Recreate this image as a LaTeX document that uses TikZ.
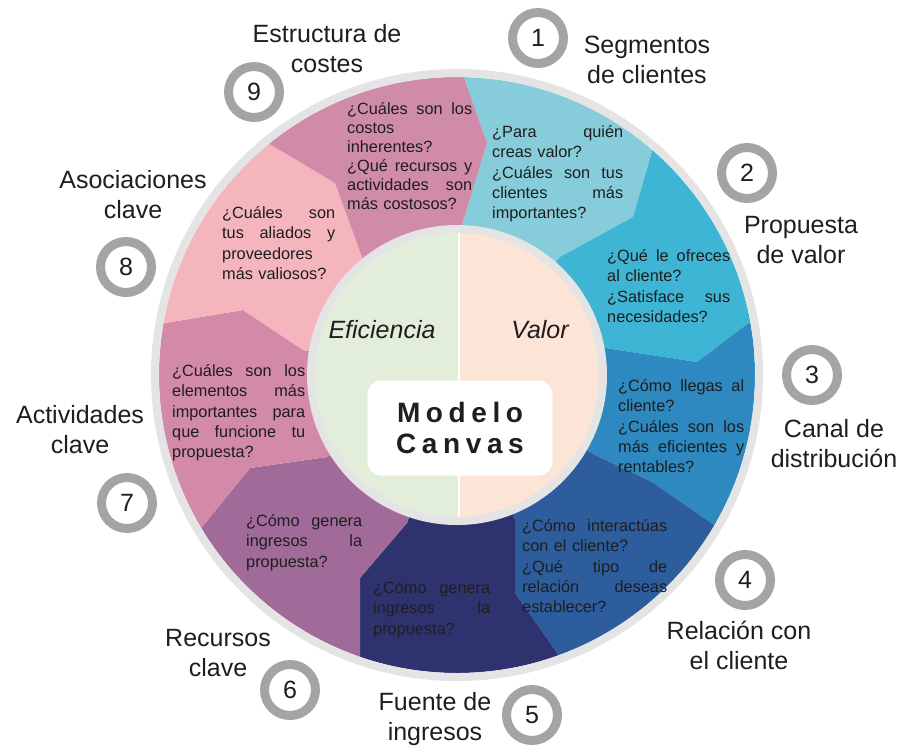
\documentclass[tikz,border=0pt]{standalone}
\usepackage{fontspec}
\setmainfont{Liberation Sans}
\newfontfamily\canvasfont[LetterSpace=20]{Liberation Sans}
\usetikzlibrary{calc}

\definecolor{segcostes}{RGB}{208,139,168}
\definecolor{segclientes}{RGB}{135,204,218}
\definecolor{segvalor}{RGB}{62,181,212}
\definecolor{segcanal}{RGB}{45,137,191}
\definecolor{segrelacion}{RGB}{46,93,157}
\definecolor{segfuente}{RGB}{46,51,112}
\definecolor{segrecursos}{RGB}{161,107,153}
\definecolor{segactividades}{RGB}{211,137,168}
\definecolor{segasociaciones}{RGB}{245,181,189}
\definecolor{ringlight}{RGB}{228,228,228}
\definecolor{ringnum}{RGB}{166,163,166}
\definecolor{efgreen}{RGB}{226,238,218}
\definecolor{valpeach}{RGB}{252,228,214}
\definecolor{inkdark}{RGB}{30,30,30}

% justified line / flush-left line
\newcommand\jl[1]{\par\noindent\hbox to\hsize{\spaceskip=.278em plus 1fill\relax#1}\par}
\newcommand\fl[1]{\par\noindent\hbox to\hsize{#1\hfil}\par}

\begin{document}
\begin{tikzpicture}
  [x=1pt, y=-1pt,
   ask/.style={anchor=north west, inner sep=0pt, text width=#1, text=inkdark, font=\fontsize{16.3}{20.3}\selectfont},
   rotulo/.style={align=center, inner sep=0pt, text=inkdark, font=\fontsize{25}{30}\selectfont},
   numring/.style={circle, draw=ringnum, line width=9pt, fill=white, minimum size=51pt, inner sep=0pt, text=inkdark, font=\fontsize{25}{25}\selectfont},
   mitad/.style={text=inkdark, font=\fontsize{25}{25}\selectfont\itshape},
   titlebox/.style={rectangle, rounded corners=14pt, fill=white, minimum width=185pt, minimum height=95pt, align=center, text=inkdark, font=\fontsize{28}{31}\selectfont\canvasfont\bfseries}]
 \useasboundingbox (0,0) rectangle (905,748);
 \coordinate (O) at (457,375);
 % boundaries: inner point, bend, outer point
 \coordinate (a0) at (462,225); \coordinate (b0) at (487,143); \coordinate (c0) at (463,75);
 \coordinate (a1) at (560,257); \coordinate (b1) at (633,217); \coordinate (c1) at (653,148);
 \coordinate (a2) at (605,348); \coordinate (b2) at (697,362); \coordinate (c2) at (750,322);
 \coordinate (a3) at (595,455); \coordinate (b3) at (652,482); \coordinate (c3) at (717,527);
 \coordinate (a4) at (515,520); \coordinate (b4) at (515,593); \coordinate (c4) at (560,657);
 \coordinate (a5) at (407,523); \coordinate (b5) at (360,578); \coordinate (c5) at (360,660);
 \coordinate (a6) at (327,457); \coordinate (b6) at (250,468); \coordinate (c6) at (202,527);
 \coordinate (a7) at (303,350); \coordinate (b7) at (243,310); \coordinate (c7) at (165,323);
 \coordinate (a8) at (362,257); \coordinate (b8) at (335,183); \coordinate (c8) at (268,143);
 \begin{scope}
  \clip (O) circle[radius=298pt];
  \foreach \i/\j/\col in {0/1/segclientes, 1/2/segvalor, 2/3/segcanal, 3/4/segrelacion, 4/5/segfuente, 5/6/segrecursos, 6/7/segactividades, 7/8/segasociaciones, 8/0/segcostes}
   \fill[\col] (O) -- (a\i) -- (b\i) -- (c\i) -- ($(O)!1.4!(c\i)$) -- ($(O)!1.4!(c\j)$) -- (c\j) -- (b\j) -- (a\j) -- cycle;
 \end{scope}
 \draw[ringlight, line width=8pt] (O) circle[radius=302pt];
 % inner circle
 \begin{scope}
  \clip (O) circle[radius=146pt];
  \fill[efgreen] ($(O)+(-150,-150)$) rectangle ($(O)+(2,150)$);
  \fill[valpeach] ($(O)+(2,-150)$) rectangle ($(O)+(150,150)$);
 \end{scope}
 \coordinate (dtop) at ($(O)+(2,-146)$);
 \coordinate (dbot) at ($(O)+(2,146)$);
 \draw[white, line width=2pt] (dtop) -- (dbot);
 \draw[ringlight, line width=8pt] (O) circle[radius=146pt];
 \node (ef) [mitad] at (382,330) {Eficiencia};
 \node (val) [mitad] at (540,330) {Valor};
 \node (caja) [titlebox] at (460,428) {Modelo\\Canvas};
 % questions
 \node (q1) [ask=131pt] at (492,117) {\jl{¿Para quién}\fl{creas valor?}\jl{¿Cuáles son tus}\jl{clientes más}\fl{importantes?}};
 \node (q2) [ask=123pt] at (607,241) {\jl{¿Qué le ofreces}\fl{al cliente?}\jl{¿Satisface sus}\fl{necesidades?}};
 \node (q3) [ask=126pt] at (618,371) {\jl{¿Cómo llegas al}\fl{cliente?}\jl{¿Cuáles son los}\jl{más eficientes y}\fl{rentables?}};
 \node (q4) [ask=145pt] at (522,511) {\jl{¿Cómo interactúas}\fl{con el cliente?}\jl{¿Qué tipo de}\jl{relación deseas}\fl{establecer?}};
 \node (q5) [ask=117pt] at (373,573) {\jl{¿Cómo genera}\jl{ingresos la}\fl{propuesta?}};
 \node (q6) [ask=116pt] at (246,506) {\jl{¿Cómo genera}\jl{ingresos la}\fl{propuesta?}};
 \node (q7) [ask=133pt] at (172,356) {\jl{¿Cuáles son los}\jl{elementos más}\jl{importantes para}\jl{que funcione tu}\fl{propuesta?}};
 \node (q8) [ask=113pt] at (222,198) {\jl{¿Cuáles son}\jl{tus aliados y}\fl{proveedores}\fl{más valiosos?}};
 \node (q9) [ask=125pt, font=\fontsize{16.3}{19}\selectfont] at (347,95) {\jl{¿Cuáles son los}\fl{costos}\fl{inherentes?}\jl{¿Qué recursos y}\jl{actividades son}\fl{más costosos?}};
 % numbers
 \node (n1) [numring] at (538,38) {1};
 \node (n2) [numring] at (747,173) {2};
 \node (n3) [numring] at (812,375) {3};
 \node (n4) [numring] at (745,580) {4};
 \node (n5) [numring] at (532,715) {5};
 \node (n6) [numring] at (290,690) {6};
 \node (n7) [numring] at (127,503) {7};
 \node (n8) [numring] at (126,267) {8};
 \node (n9) [numring] at (254,92) {9};
 % labels
 \node (l1) [rotulo] at (647,60) {Segmentos\\de clientes};
 \node (l2) [rotulo] at (801,240) {Propuesta\\de valor};
 \node (l3) [rotulo] at (834,444) {Canal de\\distribución};
 \node (l4) [rotulo] at (739,645) {Relación con\\el cliente};
 \node (l5) [rotulo] at (435,719) {Fuente de\\ingresos};
 \node (l6) [rotulo] at (218,653) {Recursos\\clave};
 \node (l7) [rotulo] at (80,430) {Actividades\\clave};
 \node (l8) [rotulo] at (133,195) {Asociaciones\\clave};
 \node (l9) [rotulo] at (327,49) {Estructura de\\costes};
\end{tikzpicture}
\end{document}
